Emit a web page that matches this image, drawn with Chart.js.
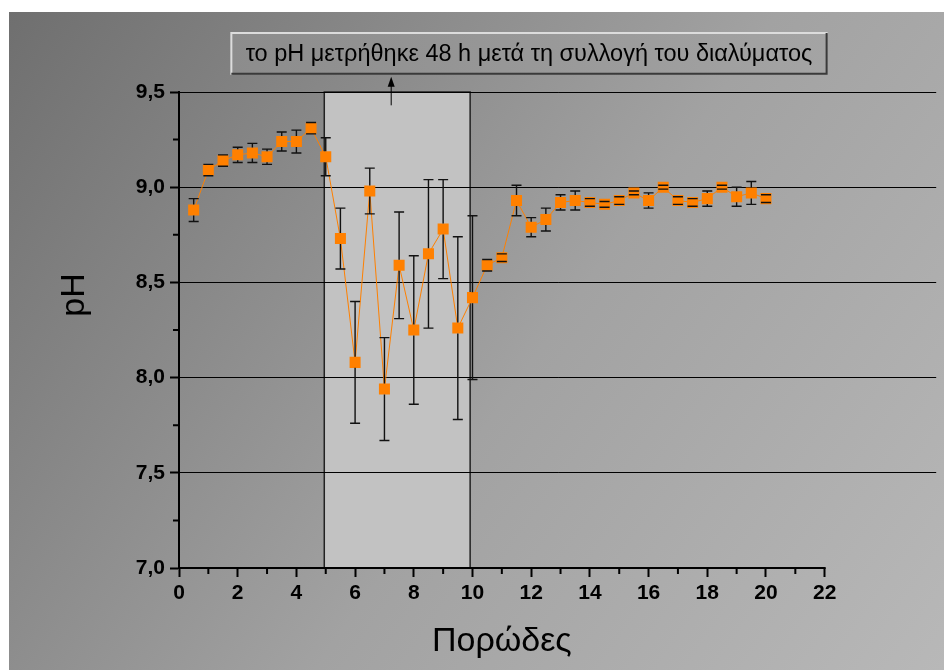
<!DOCTYPE html>
<html>
<head>
<meta charset="utf-8">
<title>pH - Πορώδες</title>
<script src="https://cdn.jsdelivr.net/npm/chart.js@4.4.0/dist/chart.umd.min.js"></script>
<style>
  html, body { margin: 0; padding: 0; background: #fff; }
  #wrap { width: 944px; height: 670px; }
</style>
</head>
<body>
<div id="wrap"><canvas id="phChart" width="944" height="670"></canvas></div>
<script>
// μετρήσεις: πορώδες (x), pH και σφάλμα (±)
const porodes = [0.5, 1, 1.5, 2, 2.5, 3, 3.5, 4, 4.5, 5,
                 5.5, 6, 6.5, 7, 7.5, 8, 8.5, 9, 9.5, 10,
                 10.5, 11, 11.5, 12, 12.5, 13, 13.5, 14, 14.5, 15,
                 15.5, 16, 16.5, 17, 17.5, 18, 18.5, 19, 19.5, 20];
const phValues = [8.88, 9.09, 9.14, 9.17, 9.18, 9.16, 9.24, 9.24, 9.31, 9.16,
                  8.73, 8.08, 8.98, 7.94, 8.59, 8.25, 8.65, 8.78, 8.26, 8.42,
                  8.59, 8.63, 8.93, 8.79, 8.83, 8.92, 8.93, 8.92, 8.91, 8.93,
                  8.97, 8.93, 9.00, 8.93, 8.92, 8.94, 9.00, 8.95, 8.97, 8.94];
const phErrors = [0.06, 0.03, 0.03, 0.04, 0.05, 0.04, 0.05, 0.06, 0.03, 0.10,
                  0.16, 0.32, 0.12, 0.27, 0.28, 0.39, 0.39, 0.26, 0.48, 0.43,
                  0.03, 0.02, 0.08, 0.05, 0.06, 0.04, 0.05, 0.02, 0.015, 0.02,
                  0.01, 0.04, 0.01, 0.02, 0.02, 0.04, 0.01, 0.05, 0.06, 0.02];

const xTicks = [0, 2, 4, 6, 8, 10, 12, 14, 16, 18, 20, 22];
const xMinorTicks = [1, 3, 5, 7, 9, 11, 13, 15, 17, 19, 21];
const yTicks = [7.0, 7.5, 8.0, 8.5, 9.0, 9.5];
const yMinorTicks = [7.25, 7.75, 8.25, 8.75, 9.25];

const shadedRange = [4.95, 9.92];   // περιοχή όπου το pH μετρήθηκε αργότερα
const noteText = "το pH μετρήθηκε 48 h μετά τη συλλογή του διαλύματος";
const xTitle = "Πορώδες";
const yTitle = "pH";

const FONT = '"Liberation Sans", Arial, sans-serif';
const ORANGE = "#ff8000";

// φόντο με διαβάθμιση + σκιασμένη ζώνη (πριν από το πλέγμα)
const backdrop = {
  id: "backdrop",
  beforeDraw(chart) {
    const { ctx, scales: { x, y } } = chart;
    ctx.save();
    ctx.fillStyle = "#fff";
    ctx.fillRect(0, 0, chart.width, chart.height);
    const g = ctx.createLinearGradient(9, 12, chart.width, chart.height);
    g.addColorStop(0, "#6f6f6f");
    g.addColorStop(0.55, "#a2a2a2");
    g.addColorStop(1, "#b8b8b8");
    ctx.fillStyle = g;
    ctx.fillRect(9, 12, chart.width - 9, chart.height - 12);

    const x0 = x.getPixelForValue(shadedRange[0]);
    const x1 = x.getPixelForValue(shadedRange[1]);
    const yt = y.getPixelForValue(9.5);
    const yb = y.getPixelForValue(7.0);
    ctx.fillStyle = "#c2c2c2";
    ctx.fillRect(x0, yt, x1 - x0, yb - yt);
    ctx.strokeStyle = "#222";
    ctx.lineWidth = 1.5;
    ctx.strokeRect(x0, yt, x1 - x0, yb - yt);
    ctx.restore();
  }
};

// μπάρες σφάλματος
const errorBars = {
  id: "errorBars",
  afterDatasetsDraw(chart) {
    const { ctx, scales: { x, y } } = chart;
    const half = 5.5;
    ctx.save();
    ctx.strokeStyle = "#111";
    ctx.lineWidth = 1.4;
    porodes.forEach((p, i) => {
      const px = x.getPixelForValue(p);
      const ym = y.getPixelForValue(phValues[i]);
      const yt = y.getPixelForValue(phValues[i] + phErrors[i]);
      const yb = y.getPixelForValue(phValues[i] - phErrors[i]);
      ctx.beginPath();
      if (yt < ym - half) { ctx.moveTo(px, yt); ctx.lineTo(px, ym - half); }
      if (yb > ym + half) { ctx.moveTo(px, ym + half); ctx.lineTo(px, yb); }
      ctx.moveTo(px - 5, yt); ctx.lineTo(px + 5, yt);
      ctx.moveTo(px - 5, yb); ctx.lineTo(px + 5, yb);
      ctx.stroke();
    });
    ctx.restore();
  }
};

// άξονας x, δευτερεύουσες υποδιαιρέσεις, τίτλοι, σημείωση
const decorations = {
  id: "decorations",
  afterDraw(chart) {
    const { ctx, scales: { x, y } } = chart;
    const left = x.getPixelForValue(0);
    const right = x.getPixelForValue(22);
    const bottom = y.getPixelForValue(7.0);
    ctx.save();
    ctx.strokeStyle = "#000";
    ctx.lineWidth = 2;
    ctx.beginPath();
    ctx.moveTo(left - 1, bottom);
    ctx.lineTo(right + 1, bottom);
    xMinorTicks.forEach(v => {
      const px = x.getPixelForValue(v);
      ctx.moveTo(px, bottom);
      ctx.lineTo(px, bottom + 6);
    });
    yMinorTicks.forEach(v => {
      const py = y.getPixelForValue(v);
      ctx.moveTo(left, py);
      ctx.lineTo(left - 6, py);
    });
    ctx.stroke();

    // τίτλοι αξόνων
    ctx.fillStyle = "#000";
    ctx.font = "34px " + FONT;
    ctx.textAlign = "center";
    ctx.textBaseline = "alphabetic";
    ctx.fillText(xTitle, (left + right) / 2, 651);
    ctx.save();
    ctx.translate(84, (y.getPixelForValue(7) + y.getPixelForValue(9.5)) / 2 - 35);
    ctx.rotate(-Math.PI / 2);
    ctx.fillText(yTitle, 0, 0);
    ctx.restore();

    // πλαίσιο σημείωσης με βέλος
    const bx0 = x.getPixelForValue(1.75), bx1 = x.getPixelForValue(22.1);
    const by0 = y.getPixelForValue(9.815), by1 = y.getPixelForValue(9.59);
    const bg = ctx.createLinearGradient(bx0, 0, bx1, 0);
    bg.addColorStop(0, "#8c8c8c");
    bg.addColorStop(1, "#a4a4a4");
    ctx.fillStyle = bg;
    ctx.fillRect(bx0, by0, bx1 - bx0, by1 - by0);
    ctx.lineWidth = 2;
    ctx.strokeStyle = "#dcdcdc";
    ctx.beginPath();
    ctx.moveTo(bx0 + 1, by1); ctx.lineTo(bx0 + 1, by0 + 1); ctx.lineTo(bx1, by0 + 1);
    ctx.stroke();
    ctx.strokeStyle = "#3a3a3a";
    ctx.beginPath();
    ctx.moveTo(bx1 - 1, by0 + 1); ctx.lineTo(bx1 - 1, by1 - 1); ctx.lineTo(bx0 + 1, by1 - 1);
    ctx.stroke();
    ctx.fillStyle = "#000";
    ctx.font = "23.5px " + FONT;
    ctx.textBaseline = "middle";
    ctx.fillText(noteText, (bx0 + bx1) / 2, (by0 + by1) / 2 + 1);

    const ax = x.getPixelForValue(7.23);
    const ayTip = by1 + 2, ayEnd = y.getPixelForValue(9.43);
    ctx.strokeStyle = "#000";
    ctx.lineWidth = 1;
    ctx.beginPath();
    ctx.moveTo(ax, ayEnd); ctx.lineTo(ax, ayTip + 8);
    ctx.stroke();
    ctx.beginPath();
    ctx.moveTo(ax, ayTip); ctx.lineTo(ax - 3.5, ayTip + 10); ctx.lineTo(ax + 3.5, ayTip + 10);
    ctx.closePath();
    ctx.fill();
    ctx.restore();
  }
};

new Chart(document.getElementById("phChart"), {
  type: "line",
  data: {
    datasets: [{
      data: porodes.map((p, i) => ({ x: p, y: phValues[i] })),
      borderColor: ORANGE,
      borderWidth: 1,
      backgroundColor: ORANGE,
      pointStyle: "rect",
      pointRadius: 7.8,
      pointBorderWidth: 0,
      pointBackgroundColor: ORANGE,
      tension: 0
    }]
  },
  options: {
    responsive: false,
    animation: false,
    layout: { padding: { left: 131, top: 92, right: 6, bottom: 62 } },
    plugins: { legend: { display: false }, tooltip: { enabled: false } },
    scales: {
      x: {
        type: "linear",
        min: 0,
        max: 25.8,
        afterBuildTicks: s => { s.ticks = xTicks.map(v => ({ value: v })); },
        afterFit: s => { s.height = 40; },
        ticks: {
          color: "#000",
          font: { family: FONT, size: 21, weight: "bold" },
          padding: 4,
          maxRotation: 0,
          autoSkip: false
        },
        grid: { drawOnChartArea: false, color: "#000", tickLength: 9, tickWidth: 2 },
        border: { display: false }
      },
      y: {
        min: 7,
        max: 9.5,
        afterBuildTicks: s => { s.ticks = yTicks.map(v => ({ value: v })); },
        afterFit: s => { s.width = 48; },
        ticks: {
          color: "#000",
          font: { family: FONT, size: 21, weight: "bold" },
          padding: 5,
          callback: v => v.toFixed(1).replace(".", ",")
        },
        grid: {
          color: c => (c.tick && c.tick.value === 7 ? "rgba(0,0,0,0)" : "#000"),
          lineWidth: 1,
          tickColor: "#000",
          tickLength: 9,
          tickWidth: 2
        },
        border: { display: true, color: "#000", width: 2 }
      }
    }
  },
  plugins: [backdrop, errorBars, decorations]
});
</script>
</body>
</html>
